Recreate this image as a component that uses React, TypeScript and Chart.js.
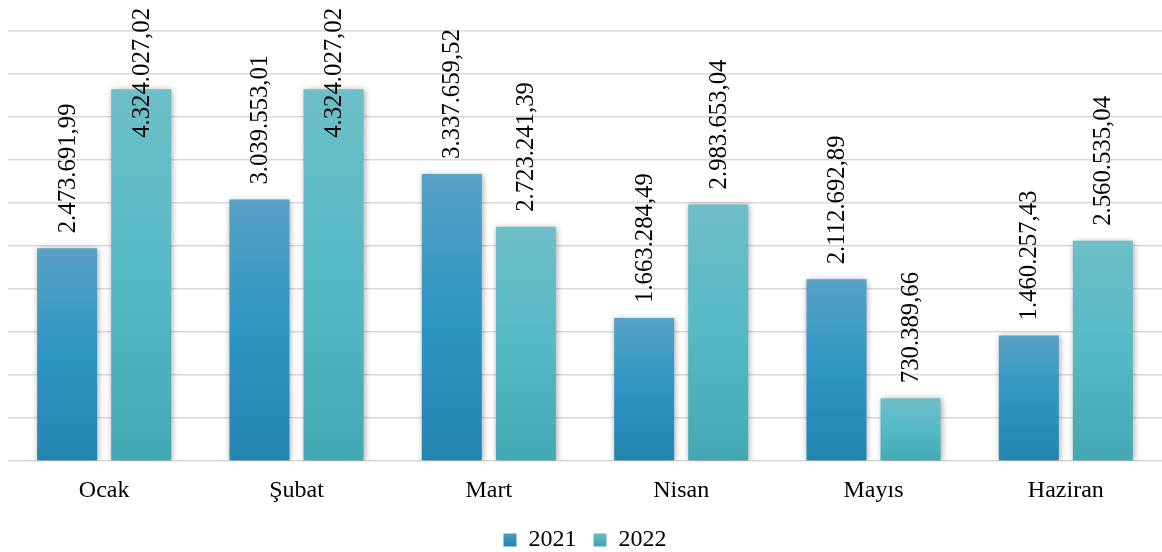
import React, { useEffect, useRef } from "react";
import { Chart, registerables } from "chart.js";

Chart.register(...registerables);

const categories = ["Ocak", "Şubat", "Mart", "Nisan", "Mayıs", "Haziran"];
const seriesNames = ["2021", "2022"];
const values2021 = [2473691.99, 3039553.01, 3337659.52, 1663284.49, 2112692.89, 1460257.43];
const values2022 = [4324027.02, 4324027.02, 2723241.39, 2983653.04, 730389.66, 2560535.04];
const yMin = 0;
const yMax = 5000000;
const yStep = 500000;

const FONT = "'Liberation Serif', 'Times New Roman', serif";

const gradStops2021 = ["#58a0c6", "#2d96c1", "#2285b0"];
const gradStops2022 = ["#6ebec7", "#55b9c6", "#44a8b4"];

function formatTr(v: number): string {
  const fixed = v.toFixed(2);
  const [intPart, dec] = fixed.split(".");
  const withDots = intPart.replace(/\B(?=(\d{3})+(?!\d))/g, ".");
  return withDots + "," + dec;
}

function makeGradient(stops: string[]) {
  return (context: any) => {
    const chart = context.chart;
    const { ctx, chartArea, scales } = chart;
    if (!chartArea || !scales || !scales.y || context.type !== "data") return stops[1];
    const v = context.raw as number;
    const top = scales.y.getPixelForValue(v);
    const bottom = scales.y.getPixelForValue(0);
    if (!isFinite(top) || !isFinite(bottom) || top === bottom) return stops[1];
    const g = ctx.createLinearGradient(0, top, 0, bottom);
    g.addColorStop(0, stops[0]);
    g.addColorStop(0.5, stops[1]);
    g.addColorStop(1, stops[2]);
    return g;
  };
}

const shadowPlugin = {
  id: "barShadow",
  beforeDatasetsDraw(chart: any) {
    const ctx = chart.ctx;
    ctx.save();
    ctx.shadowColor = "rgba(0,0,0,0.35)";
    ctx.shadowBlur = 6;
    ctx.shadowOffsetX = 1;
    ctx.shadowOffsetY = 1;
  },
  afterDatasetsDraw(chart: any) {
    chart.ctx.restore();
  },
};

const labelPlugin = {
  id: "rotLabels",
  afterDatasetsDraw(chart: any) {
    const ctx = chart.ctx;
    ctx.save();
    ctx.font = `24px ${FONT}`;
    ctx.fillStyle = "#000";
    ctx.textAlign = "left";
    ctx.textBaseline = "middle";
    chart.data.datasets.forEach((ds: any, di: number) => {
      const meta = chart.getDatasetMeta(di);
      meta.data.forEach((bar: any, i: number) => {
        const text = formatTr(ds.data[i]);
        const L = ctx.measureText(text).width * 1.03;
        let start = bar.y - 15;
        if (start - L < 8) start = 8 + L;
        ctx.save();
        ctx.translate(bar.x + 1, start);
        ctx.rotate(-Math.PI / 2);
        ctx.scale(1.03, 1.05);
        ctx.fillText(text, 0, 0);
        ctx.restore();
      });
    });
    ctx.restore();
  },
};

export default function App() {
  const canvasRef = useRef<HTMLCanvasElement | null>(null);

  useEffect(() => {
    if (!canvasRef.current) return;
    const chart = new Chart(canvasRef.current, {
      type: "bar",
      data: {
        labels: categories,
        datasets: [
          {
            label: seriesNames[0],
            data: values2021,
            backgroundColor: makeGradient(gradStops2021),
            categoryPercentage: 0.77,
            barPercentage: 0.81,
          },
          {
            label: seriesNames[1],
            data: values2022,
            backgroundColor: makeGradient(gradStops2022),
            categoryPercentage: 0.77,
            barPercentage: 0.81,
          },
        ],
      },
      options: {
        animation: false,
        responsive: true,
        maintainAspectRatio: false,
        layout: { padding: { top: 31, left: 8, right: 0, bottom: -10 } },
        plugins: {
          tooltip: { enabled: false },
          legend: {
            position: "bottom",
            labels: {
              boxWidth: 13,
              boxHeight: 13,
              padding: 17,
              color: "#000",
              font: { family: FONT, size: 24 },
              generateLabels: (chart: any) =>
                chart.data.datasets.map((ds: any, i: number) => ({
                  text: ds.label,
                  fillStyle: (() => {
                    const g = chart.ctx.createLinearGradient(0, 530, 0, 546);
                    const st = i === 0 ? gradStops2021 : gradStops2022;
                    g.addColorStop(0, st[0]);
                    g.addColorStop(1, st[2]);
                    return g;
                  })(),
                  strokeStyle: "rgba(0,0,0,0)",
                  lineWidth: 0,
                  hidden: false,
                  datasetIndex: i,
                  fontColor: "#000",
                })),
            },
          },
        },
        scales: {
          x: {
            grid: { display: false, drawTicks: false },
            border: { display: false },
            ticks: {
              color: "#000",
              font: { family: FONT, size: 24 },
              padding: 15,
              maxRotation: 0,
            },
            afterFit: (scale: any) => {
              scale.height = 50;
            },
          },
          y: {
            min: yMin,
            max: yMax,
            border: { display: false },
            grid: { color: "#d9d9d9", lineWidth: 1.5, drawTicks: false },
            ticks: { display: false, stepSize: yStep },
          },
        },
      },
      plugins: [shadowPlugin, labelPlugin],
    });
    return () => chart.destroy();
  }, []);

  return (
    <div style={{ position: "fixed", left: 0, top: 0, width: 1162, height: 552, background: "#fff" }}>
      <canvas ref={canvasRef} />
    </div>
  );
}
